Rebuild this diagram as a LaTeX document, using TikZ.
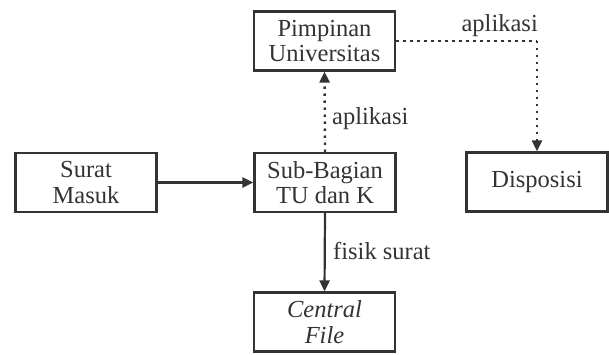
\documentclass[tikz,border=0pt]{standalone}
\usepackage{fontspec}
\setmainfont{Liberation Serif}
\usetikzlibrary{arrows.meta}
\begin{document}
\begin{tikzpicture}[x=1pt,y=-1pt,
  box/.style={draw=black!80, line width=2.2pt, minimum width=141pt, minimum height=59pt, inner sep=0pt, align=center, font=\fontsize{24.5}{25.5}\selectfont, text=black!80},
  lbl/.style={inner sep=0pt, font=\fontsize{24.5}{25.5}\selectfont, text=black!80},
  solidarrow/.style={draw=black!80, line width=2.2pt, -{Triangle[length=11pt,width=10pt]}},
  dotarrow/.style={draw=black!80, line width=2.4pt, dash pattern=on 2.4pt off 4.6pt, -{Triangle[length=11pt,width=10pt]}}]
\useasboundingbox (0,0) rectangle (609,355);
\node[box] (pim) at (324.5,41) {Pimpinan\\Universitas};
\node[box] (surat) at (86,182.5) {Surat\\Masuk};
\node[box] (sub) at (325,182.5) {Sub-Bagian\\TU dan K};
\node[box] (cf) at (324.5,322) {\itshape Central\\\itshape File};
\node[box] (disp) at (537,182) {Disposisi};
\coordinate (corner) at (disp.north |- pim.east);
\draw[solidarrow] (surat.east) -- (sub.west);
\draw[solidarrow] (sub.south) -- (cf.north);
\draw[dotarrow] (sub.north) -- (pim.south);
\draw[dotarrow, -] (pim.east) -- (corner);
\draw[dotarrow] (corner) -- (disp.north);
\node[lbl, anchor=base east] (l1) at ([xshift=1pt,yshift=9pt]corner) {aplikasi};
\node[lbl, anchor=base west] (l2) at (332,125) {aplikasi};
\node[lbl, anchor=base west] (l3) at (333,259) {fisik surat};
\end{tikzpicture}
\end{document}
